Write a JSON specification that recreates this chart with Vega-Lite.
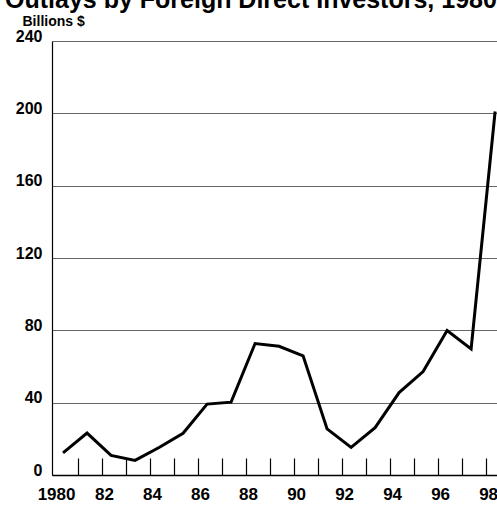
{
  "$schema": "https://vega.github.io/schema/vega-lite/v6.json",
  "autosize": {"type": "none"},
  "padding": {"left": 52, "top": 41, "right": 0, "bottom": 30},
  "width": 446,
  "height": 434,
  "title": {
    "text": "Outlays by Foreign Direct Investors, 1980–98",
    "anchor": "start",
    "frame": "group",
    "font": "Liberation Sans",
    "fontSize": 25,
    "fontWeight": "bold",
    "color": "#000000",
    "baseline": "alphabetic",
    "offset": 0,
    "dx": -47,
    "dy": 19
  },
  "config": {
    "view": {"stroke": null},
    "font": "Liberation Sans"
  },
  "data": {
    "values": [
      {"year": 1980, "outlays": 12.2},
      {"year": 1981, "outlays": 23.2},
      {"year": 1982, "outlays": 10.8},
      {"year": 1983, "outlays": 8.1},
      {"year": 1984, "outlays": 15.2},
      {"year": 1985, "outlays": 23.1},
      {"year": 1986, "outlays": 39.2},
      {"year": 1987, "outlays": 40.3},
      {"year": 1988, "outlays": 72.7},
      {"year": 1989, "outlays": 71.2},
      {"year": 1990, "outlays": 65.9},
      {"year": 1991, "outlays": 25.5},
      {"year": 1992, "outlays": 15.3},
      {"year": 1993, "outlays": 26.2},
      {"year": 1994, "outlays": 45.6},
      {"year": 1995, "outlays": 57.2},
      {"year": 1996, "outlays": 79.9},
      {"year": 1997, "outlays": 69.7},
      {"year": 1998, "outlays": 201.0}
    ]
  },
  "mark": {"type": "line", "color": "#000000", "strokeWidth": 3, "strokeJoin": "miter", "clip": false},
  "encoding": {
    "x": {
      "field": "year",
      "type": "quantitative",
      "scale": {"domain": [1979.54, 1998.12], "nice": false, "zero": false},
      "axis": {
        "title": null,
        "values": [1980, 1981, 1982, 1983, 1984, 1985, 1986, 1987, 1988, 1989, 1990, 1991, 1992, 1993, 1994, 1995, 1996, 1997, 1998],
        "labelExpr": "datum.value % 2 == 0 ? (datum.value == 1980 ? '1980' : substring(toString(datum.value), 2)) : ''",
        "grid": false,
        "domainColor": "#000000",
        "domainWidth": 1.5,
        "tickColor": "#000000",
        "tickWidth": 1.2,
        "tickSize": -17,
        "tickOffset": 15,
        "labelOffset": -22,
        "labelPadding": 28,
        "labelFont": "Liberation Sans",
        "labelFontSize": 17,
        "labelFontWeight": "bold",
        "labelColor": "#000000",
        "labelFlush": false,
        "labelOverlap": false,
        "labelBaseline": "top"
      }
    },
    "y": {
      "field": "outlays",
      "type": "quantitative",
      "scale": {"domain": [0, 240], "nice": false},
      "axis": {
        "values": [0, 40, 80, 120, 160, 200, 240],
        "title": "Billions $",
        "titleAngle": 0,
        "titleAlign": "left",
        "titleBaseline": "alphabetic",
        "titleX": -30,
        "titleY": -16,
        "titleFont": "Liberation Sans",
        "titleFontSize": 14,
        "titleFontWeight": "bold",
        "titleColor": "#000000",
        "grid": true,
        "gridColor": "#666666",
        "gridWidth": 1,
        "ticks": false,
        "domainColor": "#000000",
        "domainWidth": 1.2,
        "labelPadding": 10,
        "labelOffset": -5,
        "labelFont": "Liberation Sans",
        "labelFontSize": 16,
        "labelFontWeight": "bold",
        "labelColor": "#000000"
      }
    }
  }
}
